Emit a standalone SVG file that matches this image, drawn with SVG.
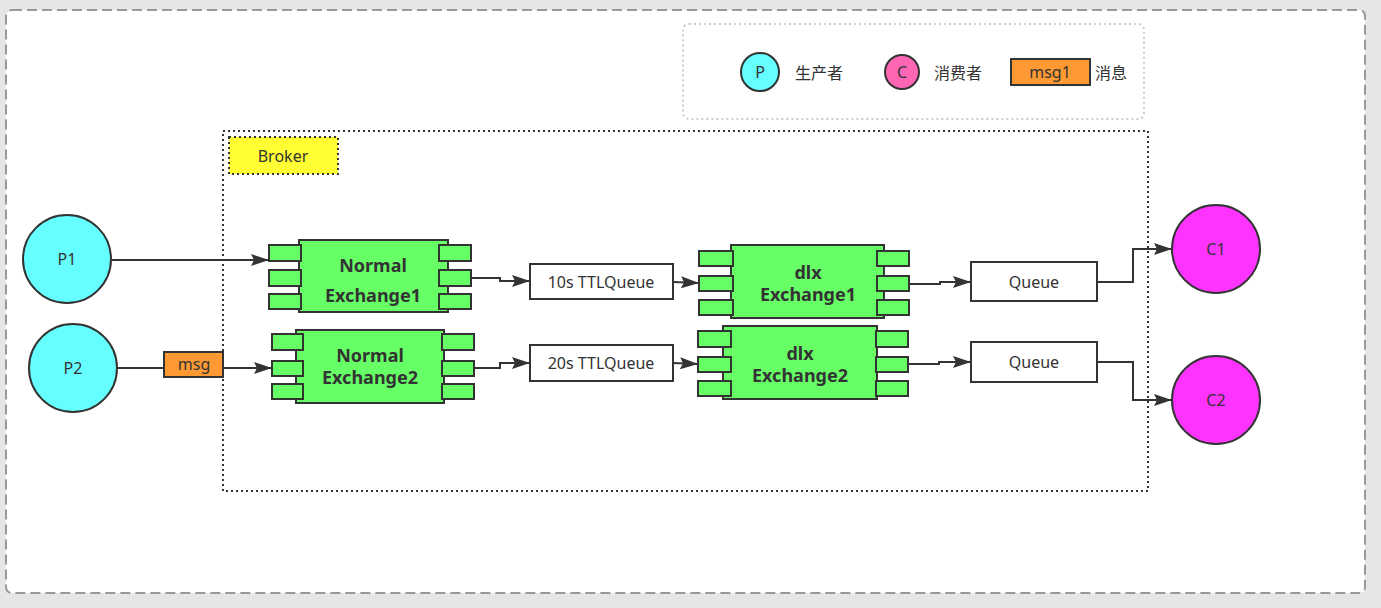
<svg xmlns="http://www.w3.org/2000/svg" width="1381" height="608" viewBox="0 0 1381 608">
<defs>
<style>
.t{font-family:"Noto Sans","Noto Sans CJK SC",sans-serif;font-size:16px;fill:#333;text-anchor:middle;dominant-baseline:central}
.b{font-weight:bold;font-size:18px}
.ex{fill:#66ff66;stroke:#333;stroke-width:2}
.box{fill:#fff;stroke:#333;stroke-width:2}
.c{stroke:#333;stroke-width:2}
.ln{fill:none;stroke:#333;stroke-width:2}
</style>
<marker id="a" viewBox="0 0 18 12" refX="18" refY="6" markerWidth="18" markerHeight="12" markerUnits="userSpaceOnUse" orient="auto">
<path d="M0,0 L18,6 L0,12 L3,6 Z" fill="#333"/>
</marker>
</defs>
<rect x="0" y="0" width="1381" height="608" fill="#e6e6e6"/>
<rect x="6" y="10" width="1359" height="583" rx="6" fill="#fff" stroke="#999" stroke-width="2" stroke-dasharray="10 5"/>

<g id="legend">
<rect x="683" y="24" width="461" height="95" rx="6" fill="#fff" stroke="#ccc" stroke-width="2" stroke-dasharray="2 3"/>
<circle cx="760" cy="72" r="19" fill="#66ffff" class="c"/>
<text class="t" x="760" y="72">P</text>
<text class="t" x="819" y="73">生产者</text>
<circle cx="902" cy="72" r="17" fill="#ff66b3" class="c"/>
<text class="t" x="902" y="72">C</text>
<text class="t" x="958" y="73">消费者</text>
<rect x="1011" y="59" width="79" height="26" fill="#ff9933" class="c"/>
<text class="t" x="1050" y="72">msg1</text>
<text class="t" x="1111" y="73">消息</text>
</g>

<g id="broker">
<rect x="223" y="131" width="925" height="360" fill="none" stroke="#333" stroke-width="2" stroke-dasharray="2 3"/>
<rect x="229" y="137" width="109" height="37" fill="#ffff33" stroke="#333" stroke-width="2" stroke-dasharray="2 3"/>
<text class="t" x="283" y="156">Broker</text>
</g>

<g id="connectors">
<path class="ln" d="M112,260 L190,260 L269,260" marker-end="url(#a)"/>
<path class="ln" d="M117,368 L164,368"/>
<path class="ln" d="M223,368 L272,368" marker-end="url(#a)"/>
<path class="ln" d="M471,278 L500,278 L500,281 L530,281" marker-end="url(#a)"/>
<path class="ln" d="M474,368 L500,368 L500,363 L530,363" marker-end="url(#a)"/>
<path class="ln" d="M673,282 L699,283" marker-end="url(#a)"/>
<path class="ln" d="M673,363 L698,364" marker-end="url(#a)"/>
<path class="ln" d="M909,284 L940,284 L940,282 L971,282" marker-end="url(#a)"/>
<path class="ln" d="M908,364 L939,364 L939,362 L971,362" marker-end="url(#a)"/>
<path class="ln" d="M1097,282 L1133,282 L1133,249 L1172,249" marker-end="url(#a)"/>
<path class="ln" d="M1097,362 L1133,362 L1133,400 L1172,400" marker-end="url(#a)"/>
</g>

<g id="P1">
<circle cx="67" cy="259" r="44" fill="#66ffff" class="c"/>
<text class="t" x="67" y="259">P1</text>
</g>
<g id="P2">
<circle cx="73" cy="368" r="44" fill="#66ffff" class="c"/>
<text class="t" x="73" y="368">P2</text>
</g>
<g id="msg">
<rect x="164" y="352" width="59" height="25" fill="#ff9933" class="c"/>
<text class="t" x="194" y="364">msg</text>
</g>

<g id="NormalExchange1">
<rect class="ex" x="299" y="240" width="149" height="72"/>
<rect class="ex" x="269" y="245" width="32" height="16"/>
<rect class="ex" x="269" y="270" width="32" height="16"/>
<rect class="ex" x="269" y="294" width="32" height="15"/>
<rect class="ex" x="439" y="245" width="32" height="16"/>
<rect class="ex" x="439" y="270" width="32" height="16"/>
<rect class="ex" x="439" y="294" width="32" height="15"/>
<text class="t b" x="373" y="265">Normal</text>
<text class="t b" x="373" y="295">Exchange1</text>
</g>
<g id="NormalExchange2">
<rect class="ex" x="296" y="330" width="148" height="73"/>
<rect class="ex" x="272" y="334" width="31" height="16"/>
<rect class="ex" x="272" y="361" width="31" height="15"/>
<rect class="ex" x="272" y="384" width="31" height="15"/>
<rect class="ex" x="442" y="334" width="32" height="16"/>
<rect class="ex" x="442" y="361" width="32" height="15"/>
<rect class="ex" x="442" y="384" width="32" height="15"/>
<text class="t b" x="370" y="355">Normal</text>
<text class="t b" x="370" y="377">Exchange2</text>
</g>

<g id="TTLQueue10">
<rect class="box" x="530" y="264" width="143" height="35"/>
<text class="t" x="601" y="282">10s TTLQueue</text>
</g>
<g id="TTLQueue20">
<rect class="box" x="530" y="345" width="143" height="36"/>
<text class="t" x="601" y="363">20s TTLQueue</text>
</g>

<g id="dlxExchange1">
<rect class="ex" x="731" y="245" width="153" height="73"/>
<rect class="ex" x="699" y="251" width="34" height="15"/>
<rect class="ex" x="699" y="276" width="34" height="15"/>
<rect class="ex" x="699" y="300" width="34" height="15"/>
<rect class="ex" x="877" y="251" width="32" height="15"/>
<rect class="ex" x="877" y="276" width="32" height="15"/>
<rect class="ex" x="877" y="300" width="32" height="15"/>
<text class="t b" x="808" y="272">dlx</text>
<text class="t b" x="808" y="294">Exchange1</text>
</g>
<g id="dlxExchange2">
<rect class="ex" x="723" y="326" width="154" height="73"/>
<rect class="ex" x="698" y="331" width="33" height="16"/>
<rect class="ex" x="698" y="357" width="33" height="15"/>
<rect class="ex" x="698" y="381" width="33" height="15"/>
<rect class="ex" x="876" y="331" width="32" height="16"/>
<rect class="ex" x="876" y="357" width="32" height="15"/>
<rect class="ex" x="876" y="381" width="32" height="15"/>
<text class="t b" x="800" y="353">dlx</text>
<text class="t b" x="800" y="375">Exchange2</text>
</g>

<g id="Queue1">
<rect class="box" x="971" y="262" width="126" height="39"/>
<text class="t" x="1034" y="282">Queue</text>
</g>
<g id="Queue2">
<rect class="box" x="971" y="342" width="126" height="40"/>
<text class="t" x="1034" y="362">Queue</text>
</g>

<g id="C1">
<circle cx="1216" cy="249" r="44" fill="#ff33ff" class="c"/>
<text class="t" x="1216" y="249">C1</text>
</g>
<g id="C2">
<circle cx="1216" cy="400" r="44" fill="#ff33ff" class="c"/>
<text class="t" x="1216" y="400">C2</text>
</g>
</svg>
